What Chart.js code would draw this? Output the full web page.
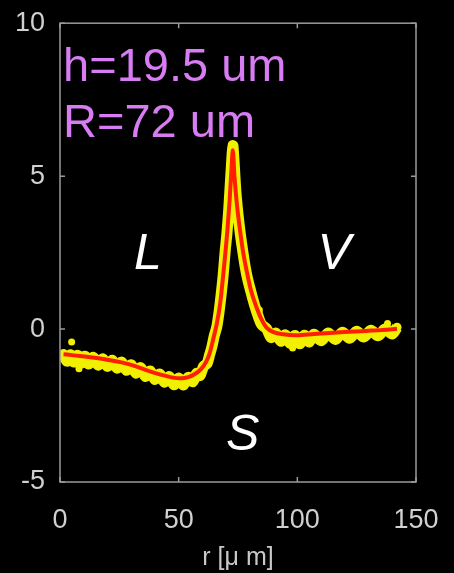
<!DOCTYPE html>
<html>
<head>
<meta charset="utf-8">
<script src="https://cdn.jsdelivr.net/npm/chart.js@4/dist/chart.umd.min.js"></script>
<style>
  html, body { margin: 0; padding: 0; background: #000; }
  canvas { display: block; }
</style>
</head>
<body>
<canvas id="perfil" width="454" height="573"></canvas>
<script>
// medidas (pontos amarelos) - r em um, altura em um
const rMedido = [1.5, 3, 4.5, 6, 7.5, 9, 10.5, 12, 14, 16, 18, 20, 22, 24, 26, 28, 30, 32, 34, 36, 38, 40, 42, 44, 46, 48, 50, 52, 54, 56, 57.5, 59, 60.5, 62, 63, 64, 65, 66, 67, 68, 68.8, 69.6, 70.3, 71, 71.6, 72.2, 72.8, 73.4, 74.1, 75, 76, 77, 78, 79, 80.5, 82, 83.5, 85, 87, 89, 91, 93, 95, 97, 99, 101, 103, 105, 107, 110, 113, 116, 119, 122, 125, 128, 131, 134, 137, 140, 142];
const hMedido = [-0.80, -1.05, -0.84, -1.08, -0.86, -1.11, -0.89, -1.14, -0.92, -1.18, -0.97, -1.22, -1.02, -1.28, -1.08, -1.35, -1.17, -1.44, -1.26, -1.55, -1.37, -1.65, -1.47, -1.74, -1.55, -1.82, -1.60, -1.83, -1.58, -1.72, -1.45, -1.52, -1.22, -1.12, -0.85, -0.58, -0.22, 0.05, 0.55, 1.20, 1.80, 2.55, 3.10, 3.80, 4.55, 5.30, 6.00, 5.40, 4.50, 3.75, 3.10, 2.55, 2.05, 1.65, 1.20, 0.78, 0.42, 0.14, 0.02, -0.28, -0.13, -0.40, -0.19, -0.46, -0.21, -0.48, -0.20, -0.42, -0.17, -0.38, -0.13, -0.34, -0.10, -0.30, -0.07, -0.26, -0.04, -0.22, 0.00, -0.16, 0.06];

// pontos soltos (fora da faixa)
const rSoltos = [4.9, 8, 84, 98, 138];
const hSoltos = [-0.42, -1.30, 0.62, -0.62, 0.18];

// ajuste (linha vermelha)
const rAjuste = [1.5, 6, 12, 19, 26, 32, 37, 42, 47, 51, 54, 57, 59.5, 61.5, 63, 64.5, 66, 67.5, 69, 70.5, 71.5, 72.3, 72.8, 73.5, 74.5, 75.9, 77.3, 78.7, 80.5, 82.9, 85, 87.1, 90, 94, 99.7, 107, 115, 122, 129, 136, 142];
const hAjuste = [-0.82, -0.86, -0.91, -0.99, -1.09, -1.22, -1.36, -1.48, -1.58, -1.61, -1.57, -1.46, -1.30, -1.08, -0.80, -0.35, 0.15, 0.85, 1.95, 3.20, 4.25, 5.30, 5.85, 5.00, 4.10, 3.20, 2.45, 1.88, 1.25, 0.69, 0.30, 0.04, -0.10, -0.17, -0.20, -0.16, -0.12, -0.09, -0.06, -0.03, 0.01];

const ticksX = [0, 50, 100, 150];
const ticksY = [-5, 0, 5, 10];

// textos sobre o grafico (posicao em coordenadas de dados)
const rotulos = [
  { texto: 'h=19.5 um', r: 1.3, h: 8.12, cor: '#d77cf2', fonte: '47px "Liberation Sans", Arial, sans-serif', alinhar: 'left' },
  { texto: 'R=72 um', r: 1.3, h: 6.27, cor: '#d77cf2', fonte: '47px "Liberation Sans", Arial, sans-serif', alinhar: 'left' },
  { texto: 'L', r: 37, h: 1.95, cor: '#ffffff', fonte: 'italic 50px "Liberation Sans", Arial, sans-serif', alinhar: 'center' },
  { texto: 'V', r: 115.5, h: 1.95, cor: '#ffffff', fonte: 'italic 50px "Liberation Sans", Arial, sans-serif', alinhar: 'center' },
  { texto: 'S', r: 77, h: -3.96, cor: '#ffffff', fonte: 'italic 50px "Liberation Sans", Arial, sans-serif', alinhar: 'center' }
];

const pontosMedidos = rMedido.map((r, i) => ({ x: r, y: hMedido[i] }));
const pontosSoltos = rSoltos.map((r, i) => ({ x: r, y: hSoltos[i] }));
const pontosAjuste = rAjuste.map((r, i) => ({ x: r, y: hAjuste[i] }));

// caixa com ticks para dentro (estilo matlab) + textos
const caixaPlugin = {
  id: 'caixa',
  afterDatasetsDraw(chart) {
    const { ctx, chartArea: a, scales: { x, y } } = chart;
    ctx.save();
    ctx.strokeStyle = '#9a9a9a';
    ctx.lineWidth = 1.5;
    ctx.strokeRect(a.left, a.top, a.right - a.left, a.bottom - a.top);
    ctx.beginPath();
    ticksX.forEach(v => {
      const px = x.getPixelForValue(v);
      ctx.moveTo(px, a.bottom); ctx.lineTo(px, a.bottom - 5);
      ctx.moveTo(px, a.top); ctx.lineTo(px, a.top + 5);
    });
    ticksY.forEach(v => {
      const py = y.getPixelForValue(v);
      ctx.moveTo(a.left, py); ctx.lineTo(a.left + 5, py);
      ctx.moveTo(a.right, py); ctx.lineTo(a.right - 5, py);
    });
    ctx.stroke();

    rotulos.forEach(t => {
      ctx.font = t.fonte;
      ctx.fillStyle = t.cor;
      ctx.textAlign = t.alinhar;
      ctx.textBaseline = 'alphabetic';
      ctx.fillText(t.texto, x.getPixelForValue(t.r), y.getPixelForValue(t.h));
    });
    ctx.restore();
  }
};

new Chart(document.getElementById('perfil'), {
  type: 'scatter',
  data: {
    datasets: [
      {
        label: 'medido',
        data: pontosMedidos,
        order: 3,
        showLine: true,
        borderColor: '#f0f000',
        borderWidth: 11,
        backgroundColor: '#f0f000',
        pointRadius: 4.5,
        pointBorderWidth: 0,
        tension: 0.3
      },
      {
        label: 'soltos',
        data: pontosSoltos,
        order: 2,
        showLine: false,
        backgroundColor: '#f0f000',
        pointRadius: 3.5,
        pointBorderWidth: 0
      },
      {
        label: 'ajuste',
        data: pontosAjuste,
        order: 1,
        showLine: true,
        borderColor: '#ff1e00',
        borderWidth: 4,
        pointRadius: 0,
        cubicInterpolationMode: 'monotone'
      }
    ]
  },
  options: {
    responsive: false,
    animation: false,
    devicePixelRatio: 1,
    layout: { padding: { top: 20, right: 38, left: 0, bottom: 0 } },
    plugins: { legend: { display: false }, tooltip: { enabled: false } },
    scales: {
      x: {
        type: 'linear',
        min: 0,
        max: 150,
        afterBuildTicks: s => { s.ticks = ticksX.map(v => ({ value: v })); },
        afterFit: s => { s.height = 91; },
        grid: { display: false },
        border: { display: false },
        ticks: { color: '#d0d0d0', padding: 14, font: { family: '"Liberation Sans", Arial, sans-serif', size: 27 } },
        title: { display: true, text: 'r [\u03bc m]', color: '#c8c8c8', padding: { top: 2, bottom: 0 }, font: { family: '"Liberation Sans", Arial, sans-serif', size: 25 } }
      },
      y: {
        type: 'linear',
        min: -5,
        max: 10,
        afterBuildTicks: s => { s.ticks = ticksY.map(v => ({ value: v })); },
        afterFit: s => { s.width = 60; },
        grid: { display: false },
        border: { display: false },
        ticks: { color: '#d0d0d0', padding: 7, font: { family: '"Liberation Sans", Arial, sans-serif', size: 27 } }
      }
    }
  },
  plugins: [caixaPlugin]
});
</script>
</body>
</html>
